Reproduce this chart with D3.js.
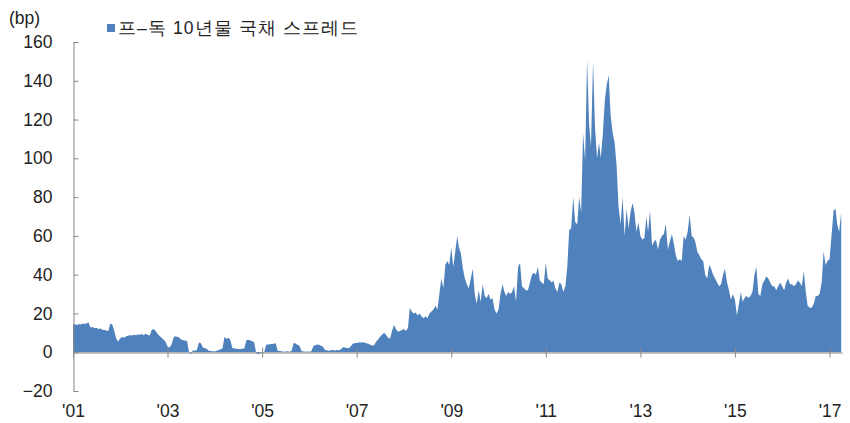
<!DOCTYPE html>
<html>
<head>
<meta charset="utf-8">
<script src="https://cdn.jsdelivr.net/npm/d3@7"></script>
<style>
  body { margin: 0; background: #fff; }
  text { font-family: "Liberation Sans", Arial, sans-serif; fill: #222; }
</style>
</head>
<body>
<div id="chart"></div>
<script>
// semi-monthly readings (1st and 16th of each month), bp
const spread2001 = [14.2,14.5,14,14.6,14.3,14.8,14.5,15,15.3,12.8,13,12.4,12.6,12,12.2,11.6,11.4,11.2,11,14.8,14.2,11,7,5.5];
const spread2002 = [7.2,7.8,7.5,8.2,8.5,8.8,8.6,9,8.7,9.2,9,9.4,8.8,9.5,9,8.6,11.5,12,11,9.5,8.4,7.5,6.5,5.5];
const spread2003 = [3,2.5,4,7.5,8.3,8,7.6,6.5,6.2,6,5.8,0,-1,1,0.8,1.2,5,4.6,2.5,2,1.6,0.8,0.6,0.5];
const spread2004 = [0.4,0.8,1.2,1.5,2,7.8,7,7.4,6.2,2.2,1.9,1.8,1.7,1.6,1.8,1.9,6.2,6.4,6,5.8,5,-0.5,-1,-0.4];
const spread2005 = [-0.3,-0.2,3.8,4,4.1,4.2,4.4,4.6,0.8,0.6,0.5,0.2,0.4,0.5,0.3,0.6,4.8,4.5,3.8,3.4,0.6,0.4,0.2,0.4];
const spread2006 = [0.3,0.5,3.2,3.6,4,3.8,3.4,2.8,1.2,1,0.8,1,1.1,0.9,1.2,1,1.4,2.6,2.5,2.2,2,3,4.4,4.6];
const spread2007 = [4.8,5,5,5.2,5,4.6,4.4,3.8,3.5,3.6,5.5,6.5,8,9,10,9,7.5,7,11,14,12,10.5,11,11.5];
const spread2008 = [12,11,12.5,23,21,20,20.5,19,20,18.5,17.5,18.5,17.5,20,21,22,24,22,30,38,33,45,47,45];
const spread2009 = [54,44,52,60,54,51,43,38,35,33,38,43,30,25,32,26,35,29,28,30,27,28,22,20];
const spread2010 = [22,30,35,31,29,31,30,31,34,26,44,46,34,33,32,32,36,40,41,40,44,37,36,35];
const spread2011 = [46,38,37,36,37,33,31,36,35,31,34,44,63,64,80,67,66,80,72,113,99,151,118,106];
const spread2012 = [150,116,100,108,100,112,130,138,143,122,113,108,96,75,66,80,60,74,64,72,77,72,62,67];
const spread2013 = [60,58,59,70,62,73,55,57,58,53,58,60,61,66,53,57,61,56,50,47,48,47,60,58];
const spread2014 = [62,71,60,59,57,52,50,48,47,40,38,45,43,40,38,36,34,35,40,43,36,32,27,30];
const spread2015 = [27,19,25,31,26,28,29,28,29,31,40,44,30,29,35,37,39,38,36,34,34,32,34,36];
const spread2016 = [34,32,36,38,35,35,34,35,37,36,34,42,31,24,23,23,25,29,29,30,36,52,45,47];
const spread2017 = [48,60,73,74,66,62,72];

const tickYears = [2001, 2003, 2005, 2007, 2009, 2011, 2013, 2015, 2017];
const tickLabels = ["'01", "'03", "'05", "'07", "'09", "'11", "'13", "'15", "'17"];
const yTicks = [-20, 0, 20, 40, 60, 80, 100, 120, 140, 160];
const seriesName = "프–독 10년물 국채 스프레드";

const values = [].concat(spread2001, spread2002, spread2003, spread2004, spread2005,
  spread2006, spread2007, spread2008, spread2009, spread2010, spread2011,
  spread2012, spread2013, spread2014, spread2015, spread2016, spread2017);
const data = values.map((v, i) => ({
  date: new Date(2001, Math.floor(i / 2), i % 2 ? 16 : 1),
  value: v
}));

const width = 850, height = 423;
const axisColor = "#888";
const fillColor = "#4f81bd";

const svg = d3.select("#chart").append("svg")
  .attr("width", width)
  .attr("height", height);

const x = d3.scaleTime()
  .domain([new Date(2001, 0, 1), new Date(2017, 3, 7)])
  .range([73, 842]);

const y = d3.scaleLinear()
  .domain([-20, 160])
  .range([391, 42]);

// area
const area = d3.area()
  .x(d => x(d.date))
  .y0(y(0))
  .y1(d => y(d.value));

svg.append("path")
  .datum(data)
  .attr("fill", fillColor)
  .attr("d", area);

// y axis, ticks point inward
const yAxis = svg.append("g")
  .attr("transform", "translate(73.5,0)")
  .call(d3.axisLeft(y).tickValues(yTicks).tickSizeInner(-5).tickSizeOuter(0).tickPadding(21)
    .tickFormat(d => d < 0 ? "\u2212" + Math.abs(d) : d));
yAxis.select(".domain").attr("stroke", axisColor);
yAxis.selectAll(".tick line").attr("stroke", axisColor);
yAxis.selectAll("text").attr("font-size", 17.5).attr("font-family", "Liberation Sans, Arial, sans-serif").attr("fill", "#222");

// x axis on the zero line, ticks crossing it
const xAxis = svg.append("g")
  .attr("transform", `translate(0,${Math.round(y(0)) + 0.5})`)
  .call(d3.axisBottom(x)
    .tickValues(tickYears.map(yr => new Date(yr, 0, 1)))
    .tickFormat((d, i) => tickLabels[i])
    .tickSizeInner(5).tickSizeOuter(0).tickPadding(47));
xAxis.select(".domain").attr("stroke", axisColor);
xAxis.selectAll(".tick line").attr("stroke", axisColor).attr("y1", -5);
xAxis.selectAll("text").attr("font-size", 17.5).attr("font-family", "Liberation Sans, Arial, sans-serif").attr("fill", "#222");

// unit label
svg.append("text")
  .attr("x", 9)
  .attr("y", 24)
  .attr("font-size", 17.5)
  .text("(bp)");

// legend
svg.append("rect")
  .attr("x", 107)
  .attr("y", 24)
  .attr("width", 8)
  .attr("height", 8)
  .attr("fill", fillColor);

svg.append("text")
  .attr("x", 118)
  .attr("y", 34)
  .attr("font-size", 17.5)
  .attr("font-family", "Noto Sans CJK KR, sans-serif")
  .attr("letter-spacing", 1.1)
  .text(seriesName);
</script>
</body>
</html>
